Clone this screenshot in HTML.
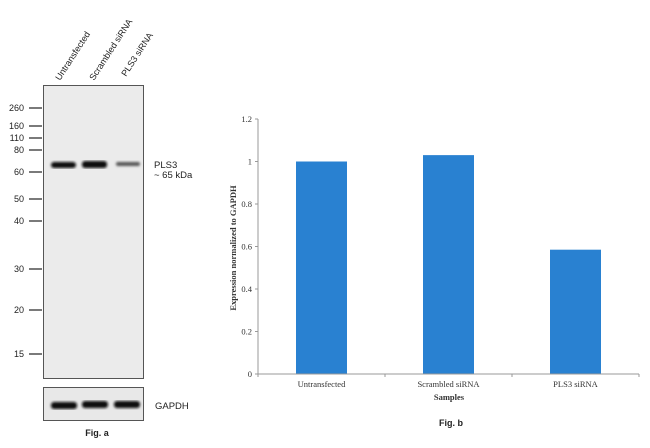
<!DOCTYPE html>
<html><head><meta charset="utf-8"><style>
body{margin:0;background:#fff;width:650px;height:443px;overflow:hidden}
svg text{font-family:"Liberation Sans",sans-serif}
.serif{font-family:"Liberation Serif",serif}
</style></head><body>
<svg width="650" height="443" xmlns="http://www.w3.org/2000/svg">
<defs>
<filter id="blur"><feGaussianBlur stdDeviation="1.2"/></filter>
</defs>
<g>
  <g font-size="9" fill="#222">
    <text transform="translate(60,81) rotate(-57)">Untransfected</text>
    <text transform="translate(94,81) rotate(-57)">Scrambled siRNA</text>
    <text transform="translate(126,77) rotate(-57)">PLS3 siRNA</text>
  </g>
  <rect x="43.5" y="85.5" width="100" height="293" fill="#ebebeb" stroke="#555"/>
  <g id="markers"></g>
  <g filter="url(#blur)">
    <rect x="51" y="162" width="25" height="6" rx="3" fill="#111"/>
    <rect x="82" y="161" width="25" height="7" rx="3" fill="#0a0a0a"/>
    <rect x="116" y="162" width="24" height="4" rx="2" fill="#555"/>
  </g>
  <text x="154" y="168" font-size="9.5" fill="#222">PLS3</text>
  <text x="154" y="178" font-size="9.5" fill="#222">~ 65 kDa</text>
  <rect x="43.5" y="387.5" width="100" height="33" fill="#e8e8e8" stroke="#555"/>
  <g filter="url(#blur)">
    <rect x="51" y="402" width="26" height="7" rx="3" fill="#111"/>
    <rect x="82" y="401" width="26" height="7" rx="3" fill="#111"/>
    <rect x="114" y="401" width="26" height="7" rx="3" fill="#111"/>
  </g>
  <text x="155" y="409" font-size="9.5" fill="#222">GAPDH</text>
  <text x="97" y="436" font-size="9" font-weight="bold" text-anchor="middle" fill="#222">Fig. a</text>
</g>
<g id="chart">
  <text x="451" y="426" font-size="9" font-weight="bold" text-anchor="middle" fill="#222">Fig. b</text>
</g>
</svg>
<script>
const markerLabels=["260","160","110","80","60","50","40","30","20","15"];
const markerY=[108,126,138,150,172,199,221,269,310,354];
const categories=["Untransfected","Scrambled siRNA","PLS3 siRNA"];
const values=[1.0,1.03,0.585];
const yTicks=["0","0.2","0.4","0.6","0.8","1","1.2"];
const yTickVals=[0,0.2,0.4,0.6,0.8,1,1.2];
const NS="http://www.w3.org/2000/svg";
function mk(t,a,p){const e=document.createElementNS(NS,t);for(const k in a)e.setAttribute(k,a[k]);p.appendChild(e);return e;}
const mg=document.getElementById('markers');
markerLabels.forEach((l,i)=>{
  const ln=mk('line',{x1:29,x2:42,y1:markerY[i],y2:markerY[i],stroke:'#333','stroke-width':1.3},mg);
  
  
  const t=mk('text',{x:24,y:markerY[i]+3,'font-size':9,'text-anchor':'end',fill:'#222'},mg);
  t.textContent=l;
  
  
});
const cg=document.getElementById('chart');
const x0=258,x1=639,y0=374,yTop=119,ymax=1.2;
const yS=v=>y0-(v/ymax)*(y0-yTop);
const bw=(x1-x0)/categories.length;
const xC=i=>x0+bw*(i+0.5);
values.forEach((v,i)=>{
  const r=mk('rect',{x:xC(i)-25.5,y:yS(v),width:51,height:y0-yS(v),fill:'#2981d1'},cg);
  
  
  const t=mk('text',{x:xC(i),y:y0+13,'font-size':8.5,'text-anchor':'middle',fill:'#333',class:'serif'},cg);
  t.textContent=categories[i];
  
  
});
const ya=mk('line',{x1:x0,x2:x0,y1:yTop,y2:y0,stroke:'#999'},cg);


const xa=mk('line',{x1:x0,x2:x1,y1:y0,y2:y0,stroke:'#999'},cg);


for(let i=0;i<=categories.length;i++){
  const tk=mk('line',{x1:x0+bw*i,x2:x0+bw*i,y1:y0,y2:y0+3,stroke:'#999'},cg);
  
  
}
yTickVals.forEach((v,i)=>{
  const tk=mk('line',{x1:x0-3,x2:x0,y1:yS(v),y2:yS(v),stroke:'#999'},cg);
  
  
  const t=mk('text',{x:x0-6,y:yS(v)+3,'font-size':8.5,'text-anchor':'end',fill:'#333',class:'serif'},cg);
  t.textContent=yTicks[i];
  
  
});
const xt=mk('text',{x:449,y:400,'font-size':8.5,'font-weight':'bold','text-anchor':'middle',fill:'#333',class:'serif'},cg);
xt.textContent='Samples';


const yt=mk('text',{transform:'translate(236,248) rotate(-90)','font-size':8.5,'font-weight':'bold','text-anchor':'middle',fill:'#333',class:'serif'},cg);
yt.textContent='Expression normalized to GAPDH';


</script>
</body></html>
